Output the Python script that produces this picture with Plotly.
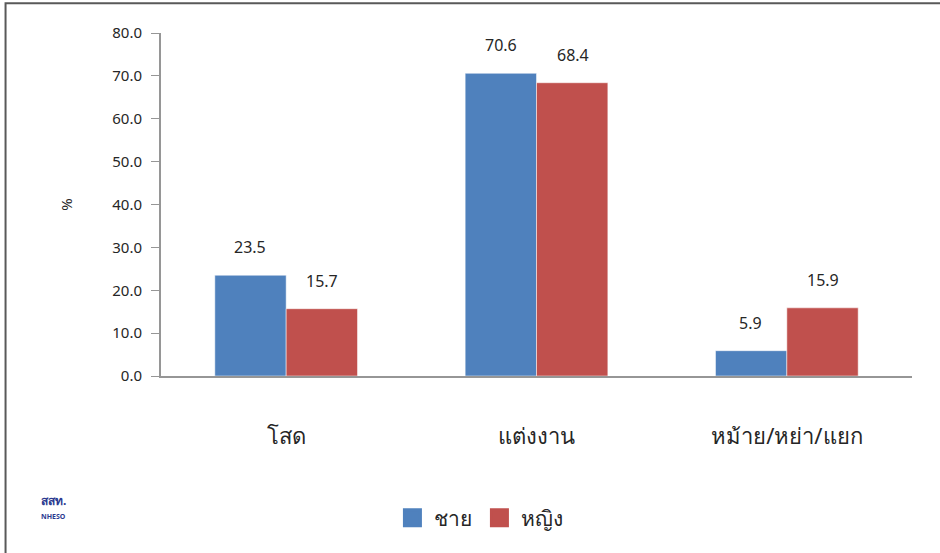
import plotly.graph_objects as go

# -- marital status by sex (%)
categories = ['โสด', 'แต่งงาน', 'หม้าย/หย่า/แยก']
male = [23.5, 70.6, 5.9]
female = [15.7, 68.4, 15.9]
y_ticks = [0, 10, 20, 30, 40, 50, 60, 70, 80]

blue = '#4F81BD'
red = '#C0504D'
font = 'Noto Sans, Tahoma, sans-serif'
txt = '#262626'

fig = go.Figure()
fig.add_trace(go.Bar(x=categories, y=male, name='ชาย', marker=dict(color=blue), showlegend=False))
fig.add_trace(go.Bar(x=categories, y=female, name='หญิง', marker=dict(color=red), showlegend=False))

# -- legend entries with bigger squares
for name, col in [('ชาย', blue), ('หญิง', red)]:
    fig.add_trace(go.Scatter(x=[None], y=[None], mode='markers', name=name,
                             marker=dict(symbol='square', size=20, color=col,
                                         line=dict(color=col, width=3))))

# -- value labels above bars
for vals, shift in [(male, -36), (female, 36)]:
    for c, v in zip(categories, vals):
        fig.add_annotation(x=c, y=v, text=f'{v:.1f}', showarrow=False,
                           xshift=shift, yshift=28,
                           font=dict(size=16, color=txt, family=font))

# -- logo stand-in
fig.add_annotation(xref='paper', yref='paper', x=-0.162, y=-0.395, text='<b>สสท.</b>',
                   showarrow=False, font=dict(size=12, color='#2B3990', family=font))
fig.add_annotation(xref='paper', yref='paper', x=-0.162, y=-0.43, text='<b>NHESO</b>',
                   showarrow=False, font=dict(size=7, color='#2B3990', family=font))

# -- outer frame
fig.add_shape(type='rect', xref='paper', yref='paper', x0=-0.207, x1=1.2, y0=-1, y1=1.087,
              line=dict(color='#595959', width=2), layer='below')

fig.update_layout(
    template='plotly_white',
    width=940, height=553,
    margin=dict(l=161, r=28, t=33, b=177),
    barmode='group', bargap=0.43, bargroupgap=0,
    font=dict(family=font, color=txt),
    showlegend=True,
    legend=dict(orientation='h', x=0.424, xanchor='center', y=-0.414, yanchor='middle',
                font=dict(size=21, color=txt), itemsizing='trace', itemwidth=34),
    xaxis=dict(showgrid=False, showline=True, linecolor='#969696', linewidth=2,
               ticks='', tickfont=dict(size=22, color=txt), ticklabelstandoff=40),
    yaxis=dict(range=[0, 80], tickvals=y_ticks, ticktext=[f'{t:.1f}' for t in y_ticks],
               showgrid=False, showline=True, linecolor='#969696', linewidth=2,
               ticks='outside', ticklen=8, tickcolor='#969696', tickfont=dict(size=15, color=txt),
               ticklabelstandoff=6, zeroline=False,
               title=dict(text='%', font=dict(size=15, color=txt), standoff=36)),
)

fig.write_html('out.html', config={'displayModeBar': False},
               post_script="document.body.style.margin='0';")
